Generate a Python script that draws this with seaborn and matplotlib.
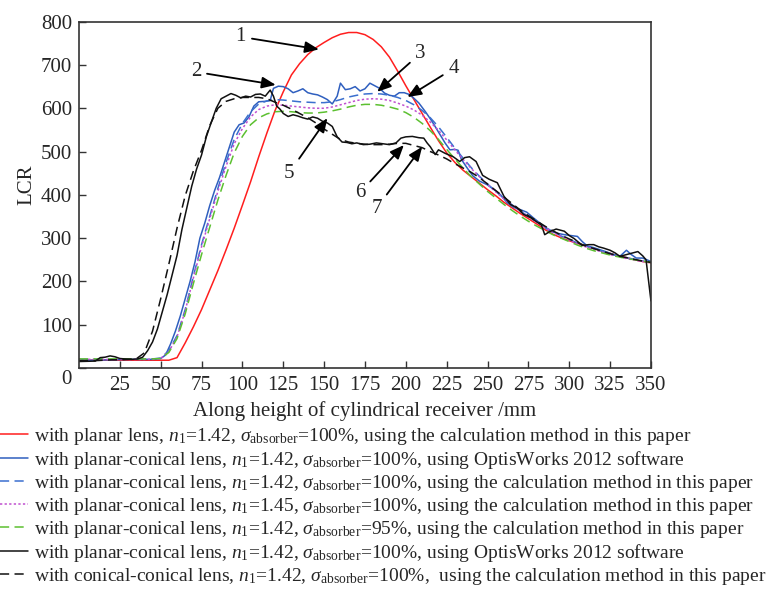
import matplotlib
matplotlib.use("Agg")
import matplotlib.pyplot as plt
from matplotlib.transforms import ScaledTranslation
import seaborn as sns

# ---- data ----
x_grid = [0, 5, 10, 15, 20, 25, 30, 35, 40, 45, 50, 55, 60, 65, 70, 75, 80, 85, 90, 95,
          100, 105, 110, 115, 120, 125, 130, 135, 140, 145, 150, 155, 160, 165, 170, 175,
          180, 185, 190, 195, 200, 205, 210, 215, 220, 225, 230, 235, 240, 245, 250, 255,
          260, 265, 270, 275, 280, 285, 290, 295, 300, 305, 310, 315, 320, 325, 330, 335,
          340, 345, 350]

# 1: planar lens, calc
lcr_planar = [18, 18, 18, 18, 18, 18, 18, 18, 18, 18, 18, 18, 24, 58, 95, 135, 180, 225, 273, 323,
              376, 430, 488, 543, 595, 638, 677, 703, 724, 740, 752, 763, 771, 775, 775, 770,
              759, 742, 718, 686, 652, 620, 588, 556, 525, 497, 475, 457, 442, 427, 412, 398,
              383, 370, 357, 345, 333, 320, 309, 301, 294, 288, 282, 276, 270, 265, 259, 255,
              250, 246, 243]

# 3: planar-conical, n1=1.42, 100%, calc
lcr_pc_calc = [20, 20, 20, 20, 20, 20, 20, 20, 20, 21, 23, 40, 75, 135, 212, 285, 350, 415, 475, 528,
               565, 592, 610, 617, 620, 619, 617, 615, 614, 613, 613, 615, 620, 626, 630, 633,
               634, 633, 630, 625, 618, 608, 595, 578, 557, 533, 508, 485, 463, 443, 425, 408,
               392, 377, 363, 350, 338, 326, 315, 305, 297, 289, 282, 276, 270, 264, 259, 255,
               251, 247, 244]

# 4: planar-conical, n1=1.45, 100%, calc
lcr_pc_145 = [20, 20, 20, 20, 20, 20, 20, 20, 20, 20, 22, 38, 72, 132, 208, 280, 345, 408, 466, 518,
              553, 580, 597, 605, 608, 607, 605, 603, 601, 600, 600, 603, 608, 613, 618, 621,
              622, 621, 618, 612, 605, 596, 584, 568, 549, 527, 504, 482, 461, 442, 424, 407,
              391, 376, 362, 349, 337, 325, 314, 304, 295, 287, 280, 274, 268, 262, 257, 253,
              249, 246, 243]

# 5: planar-conical, n1=1.42, 95%, calc
lcr_pc_95 = [21, 21, 21, 21, 21, 21, 21, 21, 21, 21, 22, 36, 68, 125, 195, 262, 325, 388, 445, 497,
             535, 562, 578, 587, 592, 593, 592, 590, 589, 589, 591, 594, 598, 603, 607, 609,
             609, 607, 603, 598, 590, 579, 565, 548, 528, 505, 483, 462, 442, 425, 408, 393,
             378, 364, 351, 339, 328, 318, 308, 300, 292, 284, 277, 271, 266, 261, 257, 253,
             250, 247, 244]

# 7: conical-conical, calc
lcr_cc_calc = [17, 17, 17, 18, 19, 19, 20, 21, 35, 85, 160, 240, 323, 398, 455, 503, 560, 600, 616, 622,
               625, 625, 625, 622, 614, 607, 598, 588, 578, 566, 552, 540, 528, 522, 519, 517,
               516, 516, 517, 519, 519, 514, 509, 500, 492, 483, 472, 462, 452, 440, 425, 410,
               395, 380, 365, 352, 340, 328, 317, 307, 298, 290, 282, 276, 270, 264, 259, 255,
               251, 247, 244]

# 2: planar-conical, OptisWorks
x_pc_sim = [0, 10, 20, 30, 40, 46, 50, 53, 56, 59, 62, 65, 68, 71, 74, 77, 80, 83, 86, 89,
            92, 95, 98, 101, 104, 107, 110, 114, 117, 119, 122, 125, 128, 131, 134, 137, 140, 143,
            146, 149, 152, 155, 158, 160, 163, 166, 169, 172, 175, 178, 181, 184, 187, 190, 193,
            196, 199, 202, 205, 208, 212, 216, 220, 224, 227, 230, 232, 234, 237, 241, 245, 250,
            254, 258, 262, 266, 270, 274, 278, 282, 286, 289, 293, 297, 301, 305, 308, 311, 315,
            319, 323, 327, 331, 335, 338, 341, 345, 350]
lcr_pc_sim = [18, 18, 19, 20, 20, 20, 22, 30, 55, 85, 120, 160, 200, 245, 300, 335, 375, 410, 440, 475,
              510, 545, 562, 566, 580, 605, 615, 616, 618, 646, 651, 650, 645, 636, 640, 645, 636, 633,
              631, 626, 620, 610, 628, 658, 643, 645, 650, 640, 645, 658, 652, 646, 635, 630, 628,
              636, 636, 632, 623, 612, 592, 570, 545, 520, 504, 505, 503, 482, 465, 444, 432, 423,
              412, 400, 382, 371, 366, 360, 347, 335, 322, 315, 311, 308, 306, 304, 292, 282, 278,
              273, 268, 262, 258, 272, 262, 254, 254, 246]

# 6: conical-conical, OptisWorks
x_cc_sim = [0, 10, 13, 16, 19, 22, 25, 28, 32, 36, 39, 42, 45, 48, 51, 54, 57, 60, 63, 66,
            69, 72, 75, 78, 81, 84, 87, 90, 93, 96, 99, 102, 105, 108, 111, 114, 117, 119, 121,
            123, 125, 128, 131, 134, 137, 140, 143, 146, 149, 152, 155, 158, 161, 164, 167, 170,
            174, 178, 182, 186, 190, 194, 197, 200, 204, 208, 211, 213, 215, 218, 220, 224, 229,
            233, 236, 239, 243, 247, 251, 256, 260, 264, 268, 272, 276, 280, 283, 285, 288, 292,
            297, 300, 303, 308, 312, 315, 318, 321, 325, 328, 331, 335, 339, 342, 345, 347, 350]
lcr_cc_sim = [15, 16, 24, 25, 28, 26, 22, 21, 20, 21, 25, 40, 60, 90, 130, 170, 215, 260, 320, 370,
              420, 460, 492, 535, 568, 600, 622, 628, 634, 630, 624, 628, 626, 632, 633, 628, 642, 628, 605,
              598, 588, 581, 585, 582, 578, 575, 580, 577, 570, 566, 558, 534, 522, 521, 518, 520,
              516, 517, 520, 518, 516, 520, 531, 534, 535, 532, 531, 520, 511, 493, 504, 496, 488,
              477, 486, 488, 477, 445, 436, 428, 397, 378, 370, 355, 348, 338, 330, 308, 315, 321,
              316, 306, 299, 283, 285, 285, 280, 277, 272, 266, 258, 262, 266, 269, 259, 250, 155]

labels = [
    r"with planar lens, $n_1$=1.42, $\sigma_{\rm absorber}$=100%, using the calculation method in this paper",
    r"with planar-conical lens, $n_1$=1.42, $\sigma_{\rm absorber}$=100%, using OptisWorks 2012 software",
    r"with planar-conical lens, $n_1$=1.42, $\sigma_{\rm absorber}$=100%, using the calculation method in this paper",
    r"with planar-conical lens, $n_1$=1.45, $\sigma_{\rm absorber}$=100%, using the calculation method in this paper",
    r"with planar-conical lens, $n_1$=1.42, $\sigma_{\rm absorber}$=95%, using the calculation method in this paper",
    r"with planar-conical lens, $n_1$=1.42, $\sigma_{\rm absorber}$=100%, using OptisWorks 2012 software",
    r"with conical-conical lens, $n_1$=1.42, $\sigma_{\rm absorber}$=100%,  using the calculation method in this paper",
]

# curve numbers: (label pos, arrow tip) in data units
callouts = [("1", (99, 765), (146.8, 736)),
            ("2", (71.5, 684), (120.4, 654)),
            ("3", (209, 727), (182.5, 638)),
            ("4", (229.3, 692), (201, 626)),
            ("5", (128.5, 450), (152, 577)),
            ("6", (171.9, 405), (198.8, 515)),
            ("7", (182.1, 369), (210, 511))]

# ---- style ----
sns.set_style("ticks")
plt.rcParams["font.family"] = ["Liberation Serif", "DejaVu Serif"]
plt.rcParams["mathtext.fontset"] = "custom"
plt.rcParams["mathtext.rm"] = "Liberation Serif"
plt.rcParams["mathtext.it"] = "Liberation Serif:italic"

fig = plt.figure(figsize=(7.78, 5.91), dpi=100)
ax = fig.add_axes([0.1015, 0.3773, 0.7352, 0.5860])

lw = 1.1
sns.lineplot(x=x_grid, y=lcr_planar, ax=ax, color="#ff1e1e", lw=lw, label=labels[0])
sns.lineplot(x=x_pc_sim, y=lcr_pc_sim, ax=ax, color="#2f5fbf", lw=lw, label=labels[1])
sns.lineplot(x=x_grid, y=lcr_pc_calc, ax=ax, color="#3b6fcf", lw=lw,
             linestyle=(0, (6, 3.5)), label=labels[2])
sns.lineplot(x=x_grid, y=lcr_pc_145, ax=ax, color="#c050d0", lw=lw,
             linestyle=(0, (1.5, 1.5)), label=labels[3])
sns.lineplot(x=x_grid, y=lcr_pc_95, ax=ax, color="#5cc030", lw=lw,
             linestyle=(0, (6, 3.5)), label=labels[4])
sns.lineplot(x=x_cc_sim, y=lcr_cc_sim, ax=ax, color="#111111", lw=lw, label=labels[5])
sns.lineplot(x=x_grid, y=lcr_cc_calc, ax=ax, color="#111111", lw=lw,
             linestyle=(0, (6, 3.5)), label=labels[6])

ax.set_xlim(0, 350)
ax.set_ylim(0, 800)
ax.set_xticks([25, 50, 75, 100, 125, 150, 175, 200, 225, 250, 275, 300, 325, 350])
ax.set_yticks([0, 100, 200, 300, 400, 500, 600, 700, 800])
ax.tick_params(direction="in", length=5, width=1, labelsize=15, color="#333333")
ax.tick_params(axis="x", pad=6)
ax.tick_params(axis="y", pad=5)
for s in ax.spines.values():
    s.set_color("#333333")
    s.set_linewidth(1.2)

# the origin label sits a little below the corner
zero = ax.get_yticklabels()[0]
zero.set_transform(zero.get_transform() + ScaledTranslation(0, -0.09, fig.dpi_scale_trans))

ax.set_xlabel("Along height of cylindrical receiver /mm", fontsize=15)
ax.set_ylabel("LCR", fontsize=15)
ax.xaxis.set_label_coords(0.5, -0.095)
ax.yaxis.set_label_coords(-0.074, 0.53)

for num, txt, tip in callouts:
    ax.annotate(num, xy=tip, xytext=txt, fontsize=15, ha="center", va="center",
                arrowprops=dict(arrowstyle="-|>,head_length=0.6,head_width=0.25",
                                color="black", lw=1.3, mutation_scale=14,
                                shrinkA=2, shrinkB=0))

ax.legend(loc="upper left", bbox_to_anchor=(0.0, 0.279), bbox_transform=fig.transFigure,
          frameon=False, fontsize=14, handlelength=1.45, handletextpad=0.3,
          labelspacing=0.1, borderpad=0, borderaxespad=0)

fig.savefig("out.png", dpi=100)
